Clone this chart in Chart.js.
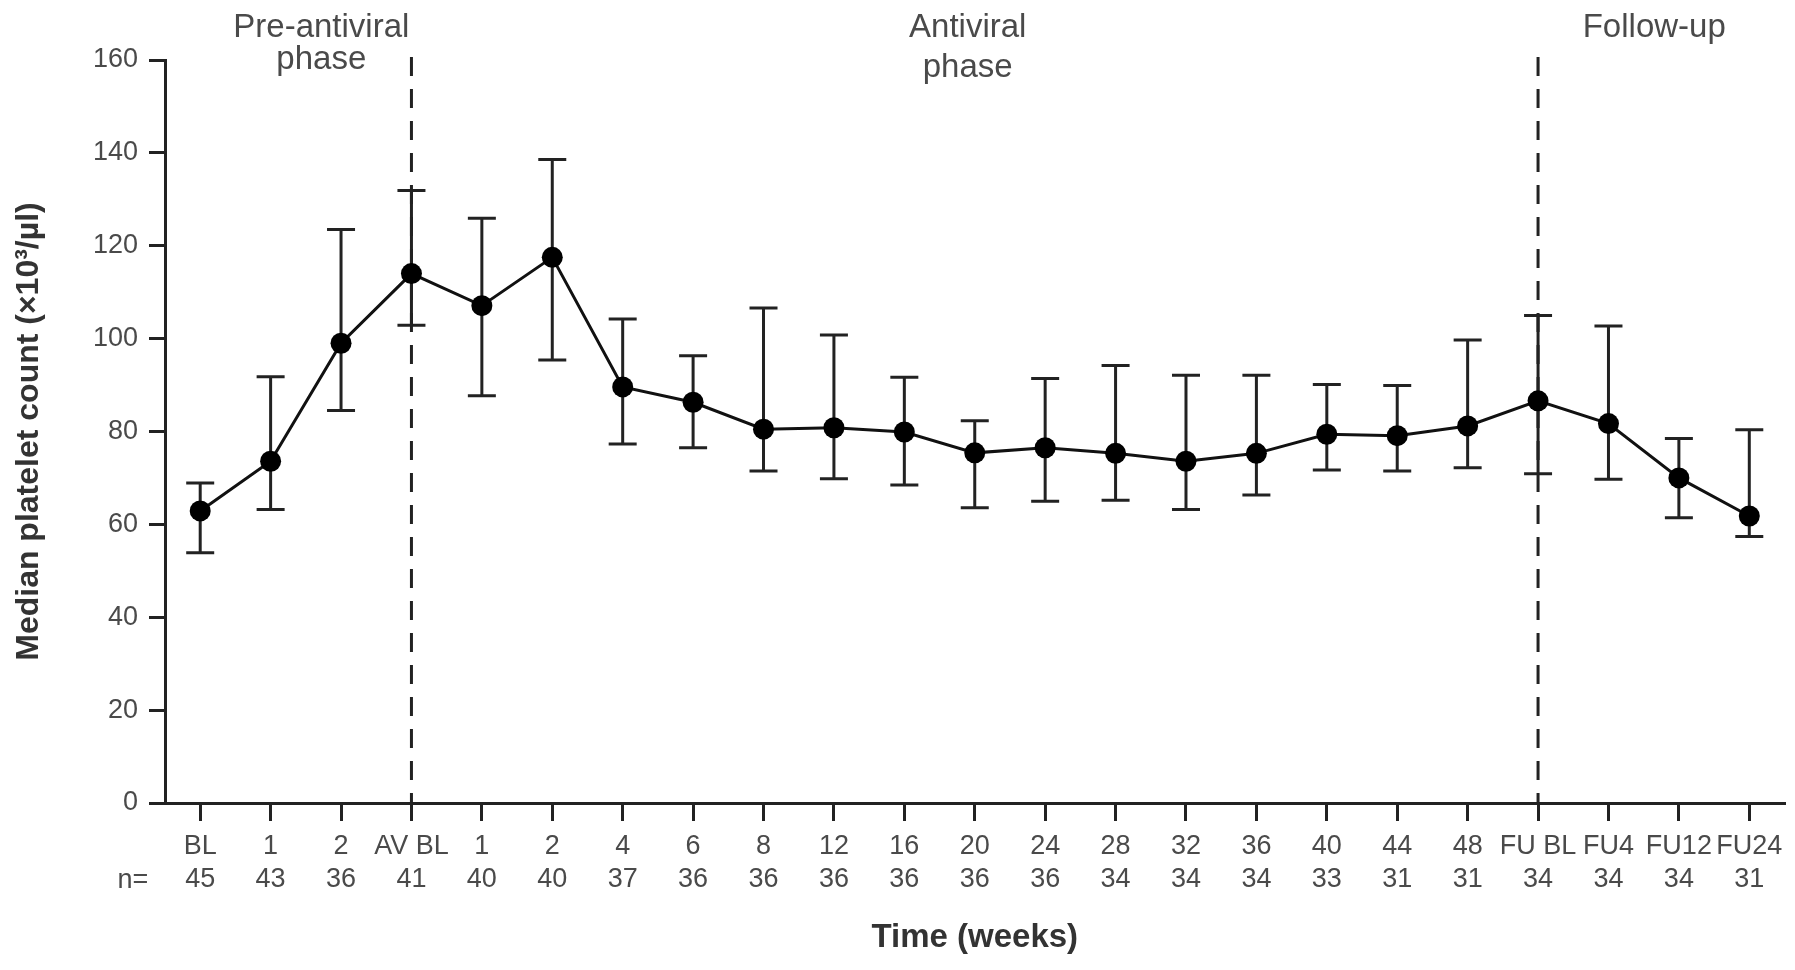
<!DOCTYPE html>
<html>
<head>
<meta charset="utf-8">
<script src="https://cdn.jsdelivr.net/npm/chart.js@4.4.1/dist/chart.umd.min.js"></script>
<style>
  html, body { margin: 0; padding: 0; background: #fff; }
  #wrap { width: 1795px; height: 970px; }
</style>
</head>
<body>
<div id="wrap"><canvas id="platelet-chart" width="1795" height="970"></canvas></div>
<script>
// time points (weeks) and number of patients at each
const timeLabels = ['BL', '1', '2', 'AV BL', '1', '2', '4', '6', '8', '12', '16', '20', '24', '28', '32', '36', '40', '44', '48', 'FU BL', 'FU4', 'FU12', 'FU24'];
const nCounts = [45, 43, 36, 41, 40, 40, 37, 36, 36, 36, 36, 36, 36, 34, 34, 34, 33, 31, 31, 34, 34, 34, 31];

// median platelet count (x10^3/ul) with upper / lower error bar ends
const medianCount = [62.9, 73.6, 99.0, 114.0, 107.1, 117.5, 89.6, 86.3, 80.5, 80.8, 79.9, 75.4, 76.5, 75.3, 73.6, 75.3, 79.4, 79.1, 81.2, 86.6, 81.7, 70.0, 61.8];
const upperCount = [68.9, 91.8, 123.5, 131.9, 125.9, 138.6, 104.2, 96.3, 106.6, 100.8, 91.7, 82.3, 91.4, 94.2, 92.1, 92.1, 90.1, 89.9, 99.7, 105.0, 102.7, 78.5, 80.4];
const lowerCount = [53.9, 63.2, 84.5, 102.9, 87.7, 95.4, 77.3, 76.5, 71.5, 69.8, 68.5, 63.6, 65.0, 65.2, 63.2, 66.3, 71.7, 71.5, 72.2, 70.9, 69.7, 61.4, 57.4];

// y axis ticks
const yTicks = [0, 20, 40, 60, 80, 100, 120, 140, 160];

// phase boundaries (dashed lines) and phase headings
const phaseBoundaries = ['AV BL', 'FU BL'];
const phaseNames = [['Pre-antiviral', 'phase'], ['Antiviral', 'phase'], ['Follow-up']];

const FONT = "'Liberation Sans', Arial, sans-serif";
const INK = '#222';
const TEXT = '#4a4a4a';

const errorBarPlugin = {
    id: 'errorBars',
    beforeDatasetsDraw(chart) {
        const { ctx, scales: { x, y } } = chart;
        ctx.save();
        ctx.strokeStyle = INK;
        ctx.lineWidth = 3;
        medianCount.forEach((m, i) => {
            const px = x.getPixelForValue(i);
            const top = y.getPixelForValue(upperCount[i]);
            const bot = y.getPixelForValue(lowerCount[i]);
            ctx.beginPath();
            ctx.moveTo(px, top); ctx.lineTo(px, bot);
            ctx.moveTo(px - 14, top); ctx.lineTo(px + 14, top);
            ctx.moveTo(px - 14, bot); ctx.lineTo(px + 14, bot);
            ctx.stroke();
        });
        ctx.restore();
    }
};

const phasePlugin = {
    id: 'phases',
    beforeDatasetsDraw(chart) {
        const { ctx, chartArea, scales: { x } } = chart;
        ctx.save();
        ctx.strokeStyle = INK;
        ctx.lineWidth = 3;
        ctx.setLineDash([19, 13]);
        phaseBoundaries.forEach(lbl => {
            const px = x.getPixelForValue(timeLabels.indexOf(lbl));
            ctx.beginPath();
            ctx.moveTo(px, chartArea.top - 3);
            ctx.lineTo(px, chartArea.bottom);
            ctx.stroke();
        });
        ctx.restore();
    },
    afterDraw(chart) {
        const { ctx, scales: { x } } = chart;
        // heading centres (in category units) and line spacing
        const centres = [1.72, 10.9, 20.65];
        const lineGap = [32, 40, 0];
        ctx.save();
        ctx.fillStyle = TEXT;
        ctx.font = `33px ${FONT}`;
        ctx.textAlign = 'center';
        ctx.textBaseline = 'middle';
        phaseNames.forEach((lines, k) => {
            const px = x.getPixelForValue(centres[k]);
            lines.forEach((t, j) => ctx.fillText(t, px, 28 + j * lineGap[k]));
        });

        // "n=" row label
        ctx.font = `27px ${FONT}`;
        ctx.fillText('n=', 133, 881);
        ctx.restore();
    }
};

new Chart(document.getElementById('platelet-chart'), {
    type: 'line',
    data: {
        labels: timeLabels,
        datasets: [{
            data: medianCount,
            borderColor: '#111',
            borderWidth: 3,
            pointRadius: 10.5,
            pointBackgroundColor: '#000',
            pointBorderColor: '#000',
            pointBorderWidth: 0,
            tension: 0
        }]
    },
    options: {
        responsive: false,
        animation: false,
        layout: { padding: { left: 0, top: 60, right: 5, bottom: 0 } },
        plugins: { legend: { display: false }, tooltip: { enabled: false } },
        scales: {
            x: {
                type: 'category',
                offset: true,
                afterFit(scale) { scale.height = 167; },
                border: { color: INK, width: 3 },
                grid: { drawOnChartArea: false, color: INK, lineWidth: 3, tickLength: 18, offset: false },
                ticks: {
                    autoSkip: false,
                    maxRotation: 0,
                    color: TEXT,
                    padding: 9,
                    font: { family: FONT, size: 27, lineHeight: 1.22 },
                    callback: (v, i) => [timeLabels[i], String(nCounts[i])]
                },
                title: {
                    display: true,
                    text: 'Time (weeks)',
                    color: '#333',
                    font: { family: FONT, size: 33, weight: 'bold', lineHeight: 1.2 },
                    padding: { top: 0, bottom: 12 }
                }
            },
            y: {
                min: 0,
                max: 160,
                afterFit(scale) { scale.width = 165; },
                afterBuildTicks(scale) { scale.ticks = yTicks.map(v => ({ value: v })); },
                border: { color: INK, width: 3 },
                grid: { drawOnChartArea: false, color: INK, lineWidth: 3, tickLength: 16 },
                ticks: {
                    color: TEXT,
                    padding: 11,
                    font: { family: FONT, size: 27 }
                },
                title: {
                    display: true,
                    text: 'Median platelet count (×10³/µl)',
                    color: '#333',
                    font: { family: FONT, size: 32, weight: 'bold', lineHeight: 1.2 },
                    padding: { top: 10, bottom: 0 }
                }
            }
        }
    },
    plugins: [errorBarPlugin, phasePlugin]
});
</script>
</body>
</html>
